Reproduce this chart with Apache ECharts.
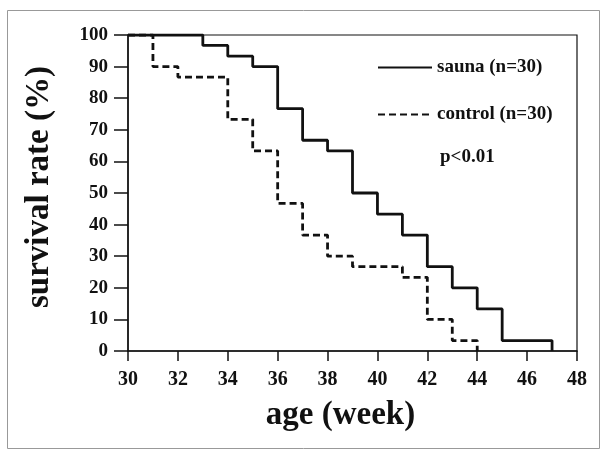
<!DOCTYPE html>
<html>
<head>
<meta charset="utf-8">
<script src="https://cdn.jsdelivr.net/npm/echarts@6/dist/echarts.min.js"></script>
<style>
  html, body { margin: 0; padding: 0; background: #fff; }
  #chart { width: 603px; height: 452px; }
</style>
</head>
<body>
<div id="chart"></div>
<script>
// Kaplan-Meier survival, values in %
var saunaWeeks = [30, 33, 34, 35, 36, 37, 38, 39, 40, 41, 42, 43, 44, 45, 47];
var saunaRate = [100, 96.7, 93.3, 90, 76.7, 66.7, 63.3, 50, 43.3, 36.7, 26.7, 20, 13.3, 3.3, 0];
var controlWeeks = [30, 31, 32, 34, 35, 36, 37, 38, 39, 41, 42, 43, 44];
var controlRate = [100, 90, 86.7, 73.3, 63.3, 46.7, 36.7, 30, 26.7, 23.3, 10, 3.3, 0];
var seriesNames = ['sauna (n=30)', 'control (n=30)'];
var pText = 'p<0.01';

function pairs(xs, ys) {
    return xs.map(function (x, i) { return [x, ys[i]]; });
}

var font = '"Liberation Serif", "DejaVu Serif", serif';
var ink = '#111';

var chart = echarts.init(document.getElementById('chart'));
chart.setOption({
    animation: false,
    backgroundColor: '#fff',
    grid: {
        left: 128, right: 26, top: 35, bottom: 101,
        show: true, borderColor: ink, borderWidth: 1.2, backgroundColor: 'transparent'
    },
    legend: {
        left: 372, top: 53, orient: 'vertical', itemGap: 28,
        itemWidth: 54, itemHeight: 14,
        itemStyle: { opacity: 0 },
        textStyle: { fontFamily: font, fontWeight: 'bold', fontSize: 19, color: ink },
        data: seriesNames
    },
    xAxis: {
        type: 'value', min: 30, max: 48, interval: 2,
        name: 'age (week)', nameLocation: 'middle', nameGap: 48,
        nameTextStyle: { fontFamily: font, fontWeight: 'bold', fontSize: 33, color: ink, padding: [0, 24, 0, 0] },
        axisLine: { lineStyle: { color: ink, width: 1.5 } },
        axisTick: { length: 10, lineStyle: { color: ink, width: 1.5 } },
        axisLabel: { fontFamily: font, fontWeight: 'bold', fontSize: 20, color: ink, margin: 19 },
        splitLine: { show: false }
    },
    yAxis: {
        type: 'value', min: 0, max: 100, interval: 10,
        name: 'survival rate (%)', nameLocation: 'middle', nameGap: 72,
        nameTextStyle: { fontFamily: font, fontWeight: 'bold', fontSize: 33, color: ink, padding: [0, 0, 0, 12] },
        axisLine: { lineStyle: { color: ink, width: 1.5 } },
        axisTick: { length: 14, lineStyle: { color: ink, width: 1.5 } },
        axisLabel: { fontFamily: font, fontWeight: 'bold', fontSize: 19, color: ink, margin: 20 },
        splitLine: { show: false }
    },
    graphic: [
        {
            type: 'rect', left: 5, top: 8, silent: true,
            shape: { width: 592, height: 438 },
            style: { fill: 'none', stroke: '#999', lineWidth: 1 }
        },
        {
            type: 'text', left: 440, top: 148,
            style: { text: pText, fontFamily: font, fontWeight: 'bold', fontSize: 19, fill: ink }
        }
    ],
    series: [
        {
            name: seriesNames[0], type: 'line', step: 'end', symbol: 'none',
            lineStyle: { color: ink, width: 2.8, type: 'solid' },
            itemStyle: { color: ink },
            data: pairs(saunaWeeks, saunaRate)
        },
        {
            name: seriesNames[1], type: 'line', step: 'end', symbol: 'none',
            lineStyle: { color: ink, width: 2.8, type: [7, 4] },
            itemStyle: { color: ink },
            data: pairs(controlWeeks, controlRate)
        }
    ]
});
</script>
</body>
</html>
